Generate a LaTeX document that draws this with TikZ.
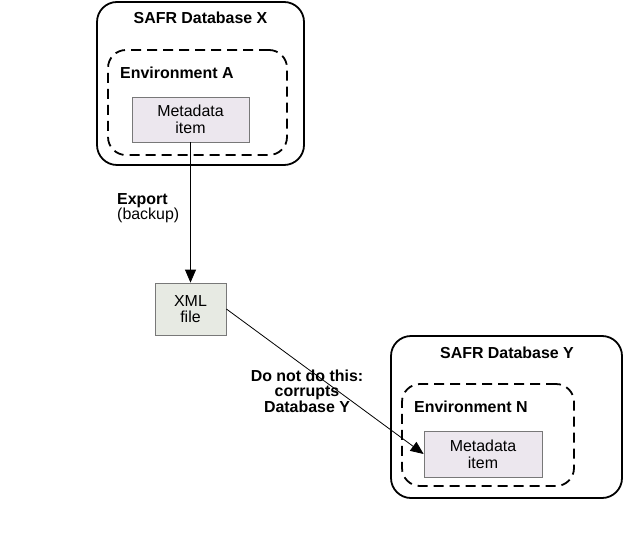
\documentclass[tikz,border=0pt]{standalone}
\usepackage{fontspec}
\setmainfont{Liberation Sans}
\usepackage{xcolor}
\usetikzlibrary{arrows.meta, positioning}

\definecolor{itemfill}{RGB}{236,231,238}
\definecolor{xmlfill}{RGB}{231,234,227}
\definecolor{itemline}{RGB}{120,120,120}

\begin{document}
\begin{tikzpicture}[
            x=1bp, y=-1bp,
            font=\fontsize{16}{17}\selectfont,
            database/.style={draw, line width=1.8pt, rounded corners=20bp},
            envbox/.style={draw, line width=1.8pt, rounded corners=18bp, dash pattern=on 10bp off 6bp},
            itembox/.style={draw=itemline, line width=0.8pt, fill=itemfill, align=center, inner sep=0pt},
            title/.style={font=\fontsize{16}{17}\selectfont\bfseries, inner sep=0pt},
            flow/.style={draw, line width=0.8pt, -{Triangle[length=13bp, width=11bp]}}
        ]
        \useasboundingbox (0,0) rectangle (624,556);

        % Database X
        \node[database, minimum width=207bp, minimum height=163bp] (dbX) at (200.5,83.5) {};
        \node[title] (dbXtitle) at (200.5,18) {SAFR Database X};
        \node[envbox, minimum width=179bp, minimum height=105bp] (envA) at (197.5,102.5) {};
        \node[title, anchor=west] (envAtitle) at (120,73) {Environment A};
        \node[itembox, minimum width=117bp, minimum height=45bp] (itemA) at (190.5,119.5) {Metadata\\item};

        % XML file
        \node[itembox, fill=xmlfill, minimum width=71bp, minimum height=52bp,
              font=\fontsize{16}{15.5}\selectfont] (xml) at (190.5,309) {XML\\file};

        % Database Y
        \node[database, minimum width=231bp, minimum height=162bp] (dbY) at (506.5,417) {};
        \node[title] (dbYtitle) at (507,353) {SAFR Database Y};
        \node[envbox, minimum width=172bp, minimum height=102bp] (envN) at (488,435) {};
        \node[title, anchor=west] (envNtitle) at (414,407) {Environment N};
        \node[itembox, minimum width=118bp, minimum height=46bp] (itemN) at (483,454) {Metadata\\item};

        % labels
        \node[align=left, anchor=north west, inner sep=0pt,
              font=\fontsize{16}{15.5}\selectfont] (export) at (117,193) {\textbf{Export}\\(backup)};
        \node[align=center, inner sep=0pt, font=\fontsize{16}{15.5}\selectfont\bfseries]
              (warning) at (307,391) {Do not do this:\\corrupts\\Database Y};

        \draw[flow] (itemA) -- (xml);
        \draw[flow] (xml.east) -- (itemN.west);

    \end{tikzpicture}
\end{document}
